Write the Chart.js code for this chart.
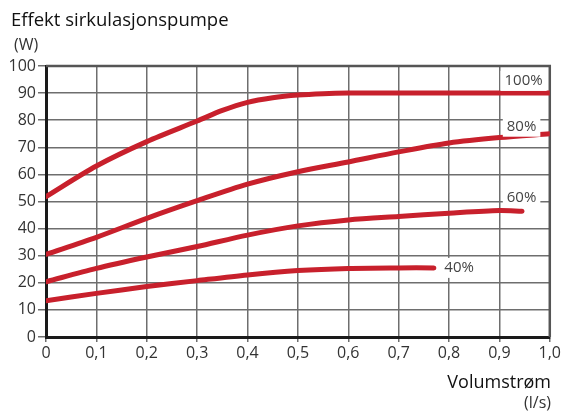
<!DOCTYPE html>
<html>
<head>
<meta charset="utf-8">
<script src="https://cdn.jsdelivr.net/npm/chart.js@4"></script>
<style>
  html, body { margin: 0; padding: 0; background: #fff; }
  canvas { display: block; }
</style>
</head>
<body>
<canvas id="pumpChart" width="563" height="417"></canvas>
<script>
// pump curves: flow (l/s) against power (W), one pair of arrays per speed step
const flow100 = [0, 0.1, 0.2, 0.3, 0.35, 0.4, 0.45, 0.5, 0.55, 0.6, 0.7, 0.8, 0.9, 1.0];
const power100 = [51.8, 63.1, 72.1, 79.7, 83.6, 86.6, 88.3, 89.3, 89.8, 90, 90, 90, 90, 90];

const flow80 = [0, 0.1, 0.2, 0.3, 0.4, 0.5, 0.6, 0.7, 0.8, 0.9, 1.0];
const power80 = [30.5, 36.8, 43.8, 50.3, 56.4, 61.0, 64.6, 68.3, 71.6, 73.6, 75.0];

const flow60 = [0, 0.1, 0.2, 0.3, 0.4, 0.5, 0.6, 0.7, 0.8, 0.9, 0.945];
const power60 = [20.4, 25.3, 29.5, 33.4, 37.6, 41.0, 43.2, 44.5, 45.7, 46.7, 46.4];

const flow40 = [0, 0.1, 0.2, 0.3, 0.4, 0.5, 0.6, 0.7, 0.77];
const power40 = [13.4, 16.1, 18.6, 20.8, 22.9, 24.5, 25.3, 25.5, 25.5];

const curveLabels = ["100%", "80%", "60%", "40%"];
// where each curve's label sits, in axis units
const labelSpots = [
  { x: 0.948, y: 94.5 },
  { x: 0.944, y: 77.6 },
  { x: 0.944, y: 51.5 },
  { x: 0.82, y: 25.5 },
];

const yTicks = [0, 10, 20, 30, 40, 50, 60, 70, 80, 90, 100];
const xTicks = [0, 0.1, 0.2, 0.3, 0.4, 0.5, 0.6, 0.7, 0.8, 0.9, 1.0];

const RED = "#c8202c";
const FONT = "'Open Sans', 'Noto Sans', sans-serif";

function toPoints(xs, ys) {
  return xs.map((x, i) => ({ x: x, y: ys[i] }));
}

function curve(xs, ys) {
  return {
    data: toPoints(xs, ys),
    borderColor: RED,
    borderWidth: 5,
    borderCapStyle: "round",
    borderJoinStyle: "round",
    pointRadius: 0,
    tension: 0.3,
    fill: false,
  };
}

const framePlugin = {
  id: "frame",
  beforeDatasetsDraw(chart) {
    const { ctx, chartArea: a } = chart;
    ctx.save();
    ctx.strokeStyle = "#555";
    ctx.lineWidth = 2.5;
    ctx.beginPath();
    ctx.moveTo(a.left, a.top);
    ctx.lineTo(a.right, a.top);
    ctx.lineTo(a.right, a.bottom);
    ctx.stroke();
    ctx.restore();
  },
  afterDatasetsDraw(chart) {
    const { ctx } = chart;
    const xs = chart.scales.x;
    const ys = chart.scales.y;
    ctx.save();
    ctx.font = "15px " + FONT;
    ctx.textAlign = "center";
    ctx.textBaseline = "middle";
    curveLabels.forEach((text, i) => {
      const px = xs.getPixelForValue(labelSpots[i].x);
      const py = ys.getPixelForValue(labelSpots[i].y);
      const w = ctx.measureText(text).width;
      ctx.fillStyle = "#fff";
      ctx.fillRect(px - w / 2 - 4, py - 10, w + 8, 20);
      ctx.fillStyle = "#444";
      ctx.fillText(text, px, py);
    });
    ctx.restore();
  },
  afterDraw(chart) {
    const { ctx } = chart;
    ctx.save();
    ctx.fillStyle = "#111";
    ctx.textBaseline = "alphabetic";
    ctx.textAlign = "left";
    ctx.font = "18.5px " + FONT;
    ctx.fillText("Effekt sirkulasjonspumpe", 11, 26);
    ctx.fillStyle = "#333";
    ctx.font = "16px " + FONT;
    ctx.fillText("(W)", 14, 50);
    ctx.textAlign = "right";
    ctx.fillStyle = "#111";
    ctx.font = "500 18px " + FONT;
    ctx.fillText("Volumstrøm", 551, 388);
    ctx.fillStyle = "#333";
    ctx.font = "16px " + FONT;
    ctx.fillText("(l/s)", 551, 408);
    ctx.restore();
  },
};

new Chart(document.getElementById("pumpChart"), {
  type: "line",
  data: {
    datasets: [
      curve(flow100, power100),
      curve(flow80, power80),
      curve(flow60, power60),
      curve(flow40, power40),
    ],
  },
  options: {
    responsive: false,
    animation: false,
    layout: { padding: { top: 66, right: 13, left: 0, bottom: 0 } },
    plugins: {
      legend: { display: false },
      tooltip: { enabled: false },
    },
    scales: {
      x: {
        type: "linear",
        min: 0,
        max: 1,
        afterFit(scale) { scale.height = 80; },
        afterBuildTicks(scale) { scale.ticks = xTicks.map((v) => ({ value: v })); },
        ticks: {
          color: "#333",
          padding: 2,
          font: { family: FONT, size: 16 },
          callback: (v) => (v === 0 ? "0" : v.toFixed(1).replace(".", ",")),
        },
        grid: { color: "#6e6e6e", lineWidth: 1.5, tickLength: 5 },
        border: { color: "#1a1a1a", width: 3 },
      },
      y: {
        min: 0,
        max: 100,
        afterFit(scale) { scale.width = 46; },
        afterBuildTicks(scale) { scale.ticks = yTicks.map((v) => ({ value: v })); },
        ticks: {
          color: "#333",
          padding: 2,
          font: { family: FONT, size: 16 },
        },
        grid: { color: "#6e6e6e", lineWidth: 1.5, tickLength: 8 },
        border: { color: "#1a1a1a", width: 3 },
      },
    },
  },
  plugins: [framePlugin],
});
</script>
</body>
</html>
